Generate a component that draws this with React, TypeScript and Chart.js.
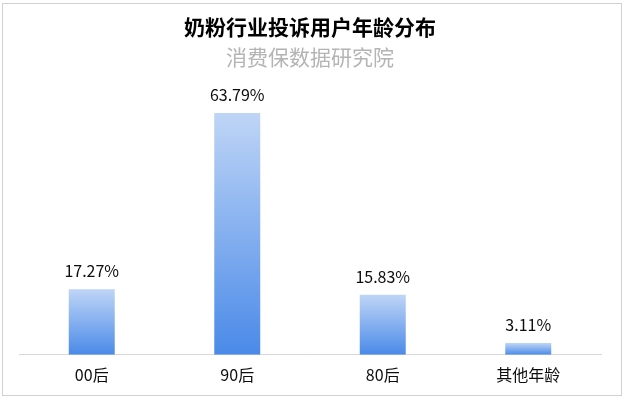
import React, { useEffect, useRef } from "react";
import { Chart, registerables } from "chart.js";

Chart.register(...registerables);

const categories: string[] = ["00后", "90后", "80后", "其他年龄"];
const shares: number[] = [17.27, 63.79, 15.83, 3.11];
const titleText = "奶粉行业投诉用户年龄分布";
const subtitleText = "消费保数据研究院";

const FONT = "'Noto Sans CJK SC', 'Noto Sans', sans-serif";

const frame = {
  id: "frame",
  beforeDraw(chart: any) {
    const c = chart.ctx;
    c.save();
    c.fillStyle = "#ffffff";
    c.fillRect(0, 0, chart.width, chart.height);
    c.strokeStyle = "#d0d0d0";
    c.lineWidth = 1;
    c.strokeRect(2.5, 3.5, 619, 392);
    c.restore();
  },
};

const valueLabels = {
  id: "valueLabels",
  afterDatasetsDraw(chart: any) {
    const c = chart.ctx;
    const meta = chart.getDatasetMeta(0);
    c.save();
    c.font = `16px ${FONT}`;
    c.fillStyle = "#0d0d0d";
    c.textAlign = "center";
    c.textBaseline = "middle";
    meta.data.forEach((bar: any, i: number) => {
      c.fillText(shares[i].toFixed(2) + "%", bar.x, bar.y - 18);
    });
    c.restore();
  },
};

export default function App() {
  const ref = useRef<HTMLCanvasElement>(null);
  useEffect(() => {
    if (!ref.current) return;
    const chart = new Chart(ref.current, {
      type: "bar",
      data: {
        labels: categories,
        datasets: [
          {
            data: shares,
            barPercentage: 0.316,
            categoryPercentage: 1,
            backgroundColor: (ctx: any) => {
              const ch = ctx.chart;
              const ys = ch.scales && ch.scales.y;
              if (!ch.chartArea || !ys) return "#8fb4ee";
              const top = ys.getPixelForValue(ctx.raw);
              const bottom = ys.getPixelForValue(0);
              const g = ch.ctx.createLinearGradient(0, top, 0, bottom);
              g.addColorStop(0, "#bfd5f6");
              g.addColorStop(1, "#4a8ae8");
              return g;
            },
          },
        ],
      },
      options: {
        responsive: false,
        animation: false,
        layout: { padding: { left: 19, right: 26, top: 0, bottom: 6 } },
        plugins: {
          legend: { display: false },
          tooltip: { enabled: false },
          title: {
            display: true,
            text: titleText,
            color: "#000000",
            font: { family: FONT, size: 21, weight: "bold" },
            padding: { top: 14, bottom: 4 },
          },
          subtitle: {
            display: true,
            text: subtitleText,
            color: "#b4b4b4",
            font: { family: FONT, size: 21 },
            padding: { top: 1, bottom: 4 },
          },
        },
        scales: {
          x: {
            grid: { display: false, drawTicks: false },
            border: { display: true, color: "#d9d9d9", width: 1 },
            ticks: {
              color: "#0d0d0d",
              font: { family: FONT, size: 16 },
              padding: 11,
            },
          },
          y: {
            display: false,
            min: 0,
            max: 74.2,
          },
        },
      },
      plugins: [frame, valueLabels],
    });
    return () => chart.destroy();
  }, []);
  return (
    <div style={{ position: "fixed", left: 0, top: 0, width: 627, height: 402 }}>
      <canvas ref={ref} width={627} height={402} />
    </div>
  );
}
